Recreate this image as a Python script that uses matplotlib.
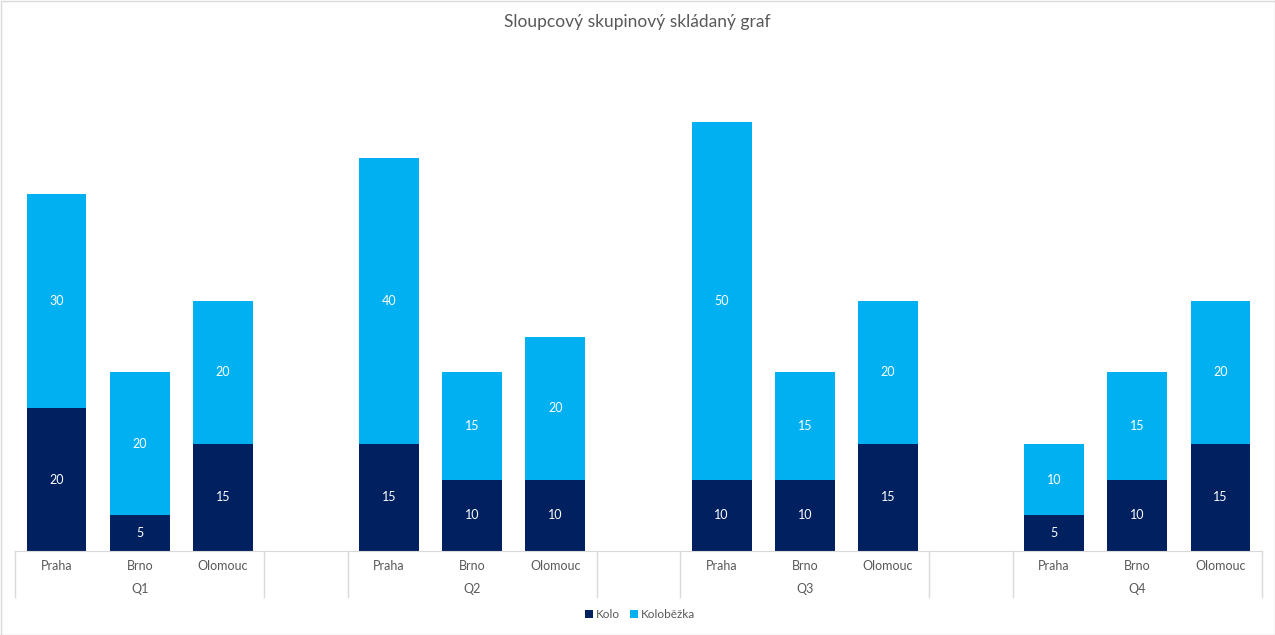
import matplotlib.pyplot as plt
import matplotlib.transforms as mtransforms
from matplotlib.patches import Rectangle

cities = ['Praha', 'Brno', 'Olomouc']
quarters = ['Q1', 'Q2', 'Q3', 'Q4']
kolo = [20, 5, 15, 15, 10, 10, 10, 10, 15, 5, 10, 15]
kolobezka = [30, 20, 20, 40, 15, 20, 50, 15, 20, 10, 15, 20]

dark = '#002060'
light = '#00B0F0'
grey = '#595959'
line_c = '#D9D9D9'

plt.rcParams['font.family'] = ['Lato', 'DejaVu Sans']

fig = plt.figure(figsize=(12.75, 6.35), dpi=100)
ax = fig.add_axes([15 / 1275, 84 / 635, 1247 / 1275, 500.5 / 635])

# each quarter takes 3 slots, then one empty slot
pos = []
for q in range(len(quarters)):
    for c in range(len(cities)):
        pos.append(q * 4 + c)

w = 0.72
b1 = ax.bar(pos, kolo, w, color=dark, label='Kolo')
b2 = ax.bar(pos, kolobezka, w, bottom=kolo, color=light, label='Koloběžka')
for bars, vals, bottoms in [(b1, kolo, [0] * len(kolo)), (b2, kolobezka, kolo)]:
    for x, v, b in zip(pos, vals, bottoms):
        ax.text(x, b + v / 2, str(v), ha='center', va='center', color='white', fontsize=9)

ax.set_xlim(-0.5, 14.5)
ax.set_ylim(0, 70)
ax.set_xticks([])
ax.set_yticks([])
for s in ['top', 'right', 'left']:
    ax.spines[s].set_visible(False)
ax.spines['bottom'].set_color(line_c)

trans = mtransforms.blended_transform_factory(ax.transData, ax.transAxes)
for x in [-0.5, 2.5, 3.5, 6.5, 7.5, 10.5, 11.5, 14.5]:
    ax.plot([x, x], [0, -46 / 500.5], color=line_c, lw=1, transform=trans, clip_on=False)
for x in pos:
    ax.text(x, -15 / 500.5, cities[x % 4], ha='center', va='center', color=grey,
            fontsize=9, transform=trans)
for q, name in enumerate(quarters):
    ax.text(q * 4 + 1, -38 / 500.5, name, ha='center', va='center', color=grey,
            fontsize=9, transform=trans)

fig.text(0.5, 1 - 22 / 635, 'Sloupcový skupinový skládaný graf', ha='center', va='center',
         color=grey, fontsize=12.5)

leg = fig.legend(handles=[b1, b2], loc='center', bbox_to_anchor=(640 / 1275, 1 - 615 / 635),
                 ncol=2, frameon=False, fontsize=8.5, handlelength=0.65, handleheight=0.65,
                 handletextpad=0.25, columnspacing=0.9)
for t in leg.get_texts():
    t.set_color(grey)

fig.patches.append(Rectangle((0.5 / 1275, 0.5 / 635), 1 - 1 / 1275, 1 - 1 / 635,
                             transform=fig.transFigure, fill=False, edgecolor=line_c, lw=1))

fig.savefig('out.png', dpi=100)
